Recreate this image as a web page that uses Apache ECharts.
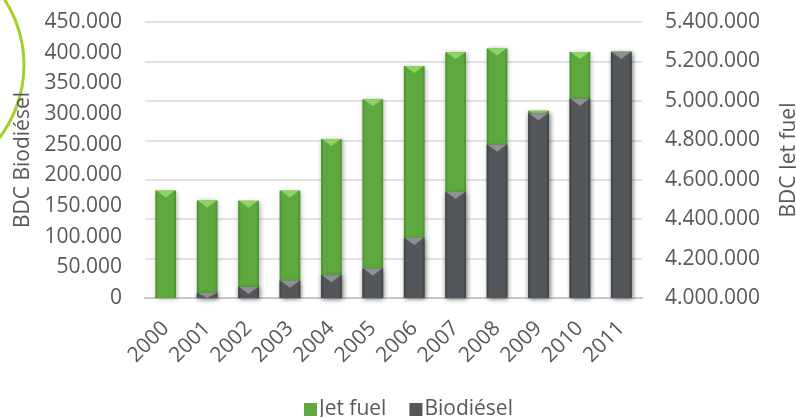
<!DOCTYPE html>
<html>
<head>
<meta charset="utf-8">
<script src="https://cdn.jsdelivr.net/npm/echarts@6/dist/echarts.min.js"></script>
<style>
html,body{margin:0;padding:0;background:#fff;}
#chart{width:796px;height:417px;}
</style>
</head>
<body>
<div id="chart"></div>
<script>
const years = ['2000','2001','2002','2003','2004','2005','2006','2007','2008','2009','2010','2011'];
const jetFuel = [4545000, 4495000, 4493000, 4545000, 4806000, 5008000, 5177000, 5246000, 5266000, 4950000, 5248000, 5250000];
const biodiesel = [0, 8000, 18000, 28000, 37000, 48000, 98000, 173000, 250000, 301000, 325000, 401000];
const leftTicks = {min: 0, max: 450000, interval: 50000};
const rightTicks = {min: 4000000, max: 5400000, interval: 200000};

const FONT = 'Open Sans';
const LABEL_COLOR = '#595959';

function fmt(v){
  return String(Math.round(v)).replace(/\B(?=(\d{3})+(?!\d))/g, '.');
}

function makeRender(baseVal, c, light){
  return function(params, api){
    const idx = api.value(0);
    const v = api.value(1);
    const top = api.coord([idx, v]);
    const base = api.coord([idx, baseVal]);
    const bw = api.size([1, 0])[0] * 0.5;
    const x = top[0] - bw / 2;
    const h = base[1] - top[1];
    if (h < 0.5) return null;
    const th = Math.min(7, h);
    return {
      type: 'group',
      children: [
        {
          type: 'rect',
          shape: {x: x, y: top[1], width: bw, height: h},
          style: {
            fill: new echarts.graphic.LinearGradient(0, 0, 1, 0, [
              {offset: 0, color: c.edge},
              {offset: 0.14, color: c.body},
              {offset: 0.86, color: c.body},
              {offset: 1, color: c.edge}
            ]),
            shadowBlur: 5,
            shadowColor: 'rgba(0,0,0,0.35)',
            shadowOffsetX: 1,
            shadowOffsetY: 1
          }
        },
        {
          type: 'polygon',
          shape: {points: [[x + 1, top[1]], [x + bw - 1, top[1]], [x + bw / 2, top[1] + th]]},
          style: {fill: light}
        }
      ]
    };
  };
}

const greenC = {body: '#5ea93e', edge: '#4a8f2e'};
const greyC = {body: '#53565a', edge: '#404245'};

const chart = echarts.init(document.getElementById('chart'), null, {renderer: 'canvas'});
chart.setOption({
  animation: false,
  backgroundColor: '#ffffff',
  textStyle: {fontFamily: FONT},
  graphic: [{
    type: 'circle',
    shape: {cx: -96, cy: 65, r: 120},
    style: {fill: 'none', stroke: '#a2d12c', lineWidth: 3},
    z: -1
  }],
  grid: {left: 145, right: 154, top: 22, bottom: 119, containLabel: false, outerBoundsMode: 'none'},
  legend: {
    left: 299,
    top: 394,
    itemWidth: 13,
    itemHeight: 13,
    itemGap: 23,
    textStyle: {fontFamily: FONT, fontSize: 21, color: LABEL_COLOR, padding: [0, 0, 0, -3]},
    data: [{name: 'Jet fuel', icon: 'rect'}, {name: 'Biodiésel', icon: 'rect'}]
  },
  xAxis: {
    type: 'category',
    data: years,
    axisLine: {show: true, lineStyle: {color: '#c8c8c8', width: 2}},
    axisTick: {show: false},
    axisLabel: {rotate: 45, margin: 27, fontFamily: FONT, fontSize: 21, color: LABEL_COLOR}
  },
  yAxis: [
    {
      type: 'value',
      position: 'left',
      min: leftTicks.min, max: leftTicks.max, interval: leftTicks.interval,
      name: 'BDC Biodiésel',
      nameLocation: 'middle',
      nameRotate: 90,
      nameGap: 110,
      nameTextStyle: {fontFamily: FONT, fontSize: 21, color: LABEL_COLOR},
      axisLine: {show: false},
      axisTick: {show: false},
      splitLine: {show: false},
      axisLabel: {margin: 23, fontFamily: FONT, fontSize: 21, color: LABEL_COLOR, formatter: fmt}
    },
    {
      type: 'value',
      position: 'right',
      min: rightTicks.min, max: rightTicks.max, interval: rightTicks.interval,
      name: 'BDC Jet fuel',
      nameLocation: 'middle',
      nameRotate: 90,
      nameGap: 137,
      nameTextStyle: {fontFamily: FONT, fontSize: 21, color: LABEL_COLOR},
      axisLine: {show: false},
      axisTick: {show: false},
      splitLine: {show: true, lineStyle: {color: '#d9d9d9', width: 1.5}},
      axisLabel: {margin: 23, fontFamily: FONT, fontSize: 21, color: LABEL_COLOR, formatter: fmt}
    }
  ],
  series: [
    {
      name: 'Jet fuel',
      type: 'custom',
      yAxisIndex: 1,
      itemStyle: {color: '#5ea93e'},
      renderItem: makeRender(rightTicks.min, greenC, '#8fd463'),
      encode: {x: 0, y: 1},
      data: years.map((y, i) => [i, jetFuel[i]])
    },
    {
      name: 'Biodiésel',
      type: 'custom',
      yAxisIndex: 0,
      itemStyle: {color: '#53565a'},
      renderItem: makeRender(leftTicks.min, greyC, '#8e9093'),
      encode: {x: 0, y: 1},
      data: years.map((y, i) => [i, biodiesel[i]])
    }
  ]
});
</script>
</body>
</html>
